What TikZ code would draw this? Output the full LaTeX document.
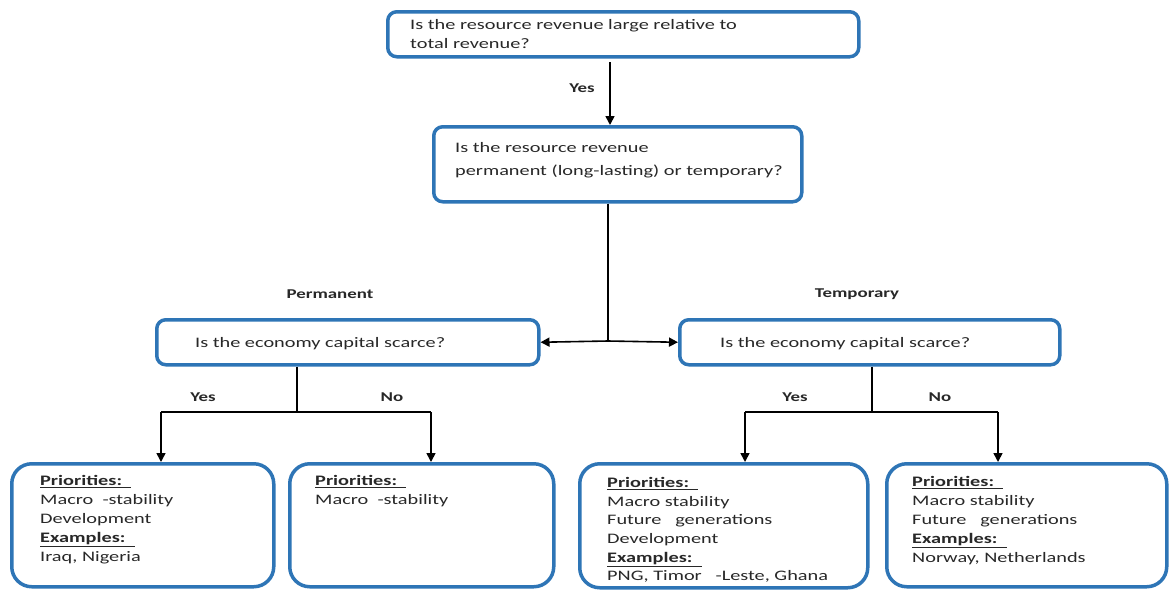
\documentclass[tikz,border=0pt]{standalone}
\usepackage{fontspec}
\setmainfont{Carlito}[FakeStretch=1.4]
\usetikzlibrary{arrows.meta}
\definecolor{boxblue}{RGB}{46,117,182}
\definecolor{ink}{RGB}{40,40,40}
\begin{document}
\begin{tikzpicture}[x=1pt,y=-1pt,
  qbox/.style={draw=boxblue,line width=3.5pt,rounded corners=9pt,fill=white,inner sep=0pt,anchor=north west},
  rbox/.style={draw=boxblue,line width=3.5pt,rounded corners=20pt,fill=white,inner sep=0pt,anchor=north west},
  txt/.style={anchor=north west,align=left,inner sep=0pt,text=ink,font=\fontsize{14.5}{19}\selectfont},
  btxt/.style={anchor=north west,align=left,inner sep=0pt,text=ink,font=\fontsize{14.5}{19}\selectfont},
  lbl/.style={font=\bfseries\fontsize{13.5}{15}\selectfont,inner sep=0pt,text=ink},
  conn/.style={line width=1.6pt},
  arr/.style={conn,-{Triangle[length=9pt,width=9pt]}}]
\useasboundingbox (0,0) rectangle (1170,590);
\newcommand{\hdr}[1]{\underline{\textbf{#1}\ \ }}
% question boxes
\node[qbox,minimum width=471pt,minimum height=45pt] (q1) at (386,10) {};
\node[txt] (t1) at (410,19) {Is the resource revenue large relative to\\total revenue?};
\node[qbox,minimum width=368pt,minimum height=75pt] (q2) at (432,125) {};
\node[txt,font=\fontsize{14.5}{23}\selectfont] (t2) at (455,142) {Is the resource revenue\\permanent (long-lasting) or temporary?};
\node[qbox,minimum width=382pt,minimum height=45pt] (q3) at (155,318) {};
\node[txt] (t3) at (195,337) {Is the economy capital scarce?};
\node[qbox,minimum width=380pt,minimum height=45pt] (q4) at (678,318) {};
\node[txt] (t4) at (720,337) {Is the economy capital scarce?};
% result boxes
\node[rbox,minimum width=262pt,minimum height=123pt] (r1) at (10,462) {};
\node[btxt] (s1) at (40,475) {\hdr{Priorities:}\\Macro\ \ -stability\\Development\\\hdr{Examples:}\\Iraq, Nigeria};
\node[rbox,minimum width=264pt,minimum height=123pt] (r2) at (288,462) {};
\node[btxt] (s2) at (315,475) {\hdr{Priorities:}\\Macro\ \ -stability};
\node[rbox,minimum width=288pt,minimum height=124pt] (r3) at (578,462) {};
\node[btxt,font=\fontsize{14.5}{18.7}\selectfont] (s3) at (607,477) {\hdr{Priorities:}\\Macro stability\\Future\ \ \ generations\\Development\\\hdr{Examples:}\\PNG, Timor\ \ \ -Leste, Ghana};
\node[rbox,minimum width=280pt,minimum height=123pt] (r4) at (885,462) {};
\node[btxt] (s4) at (912,476) {\hdr{Priorities:}\\Macro stability\\Future\ \ \ generations\\\hdr{Examples:}\\Norway, Netherlands};
% labels
\node[lbl] (y0) at (582,88) {Yes};
\node[lbl] (pm) at (330,294) {Permanent};
\node[lbl] (tp) at (857,294) {Temporary};
\node[lbl] (y1) at (203,397) {Yes};
\node[lbl] (n1) at (392,397) {No};
\node[lbl] (y2) at (795,397) {Yes};
\node[lbl] (n2) at (940,397) {No};
% connectors
\coordinate (a0) at (610,62);
\draw[arr] (a0) -- (a0 |- q2.north);
\coordinate (j) at (608,341);
\draw[conn] (j |- q2.south) -- (j);
\draw[arr] (j) -- (q3.east);
\draw[arr] (j) -- (q4.west);
\coordinate (b1) at (297,412);
\coordinate (l1) at (161,412);
\coordinate (m1) at (431,412);
\draw[conn] (b1 |- q3.south) -- (b1);
\draw[conn] (l1) -- (m1);
\draw[arr] (l1) -- (l1 |- r1.north);
\draw[arr] (m1) -- (m1 |- r2.north);
\coordinate (b2) at (872,412);
\coordinate (l2) at (745,412);
\coordinate (m2) at (998,412);
\draw[conn] (b2 |- q4.south) -- (b2);
\draw[conn] (l2) -- (m2);
\draw[arr] (l2) -- (l2 |- r3.north);
\draw[arr] (m2) -- (m2 |- r4.north);
\end{tikzpicture}
\end{document}
